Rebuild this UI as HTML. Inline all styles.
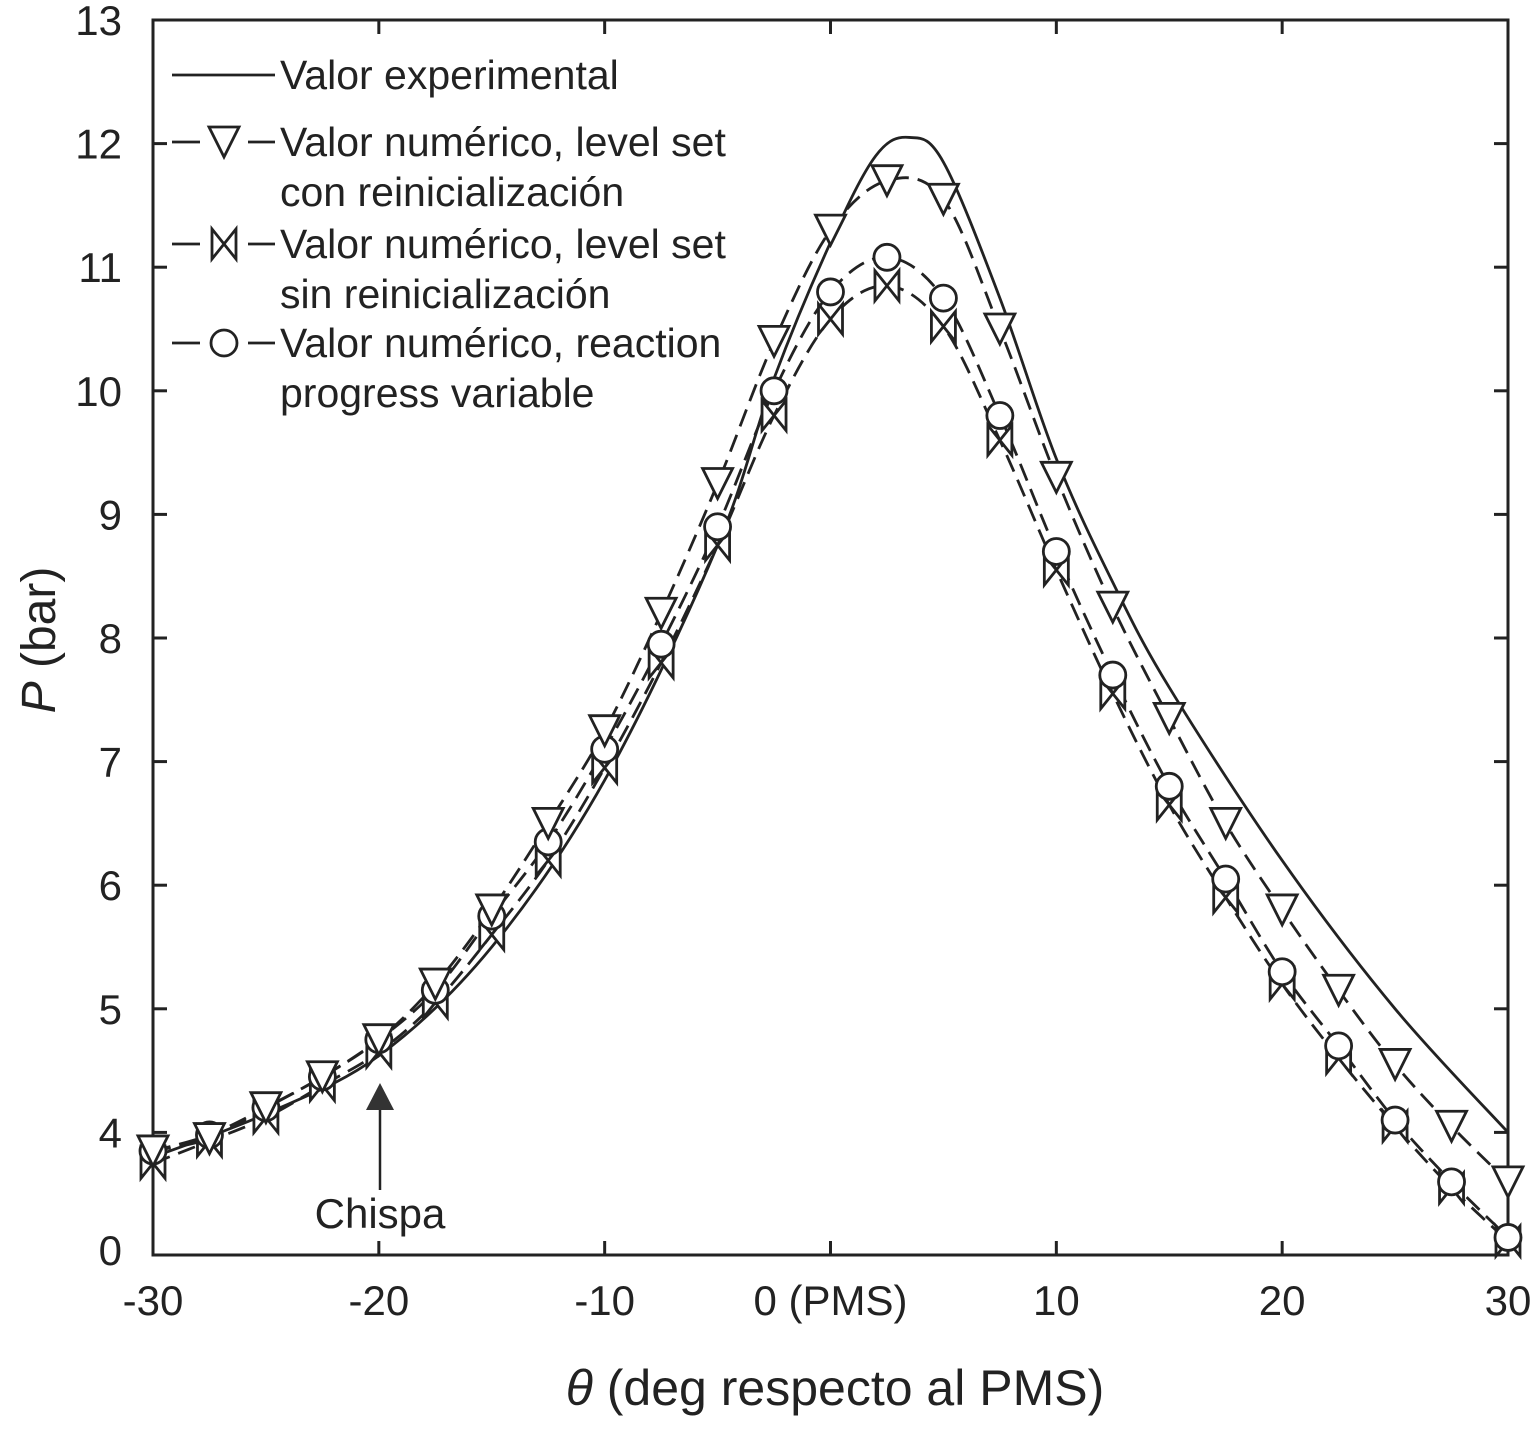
<!DOCTYPE html>
<html><head><meta charset="utf-8"><style>
body{margin:0;background:#fff}
svg text{font-family:"Liberation Sans",Arial,sans-serif;fill:#222}
</style></head><body>
<svg id="chart" width="1539" height="1444" viewBox="0 0 1539 1444" xmlns="http://www.w3.org/2000/svg"></svg>
<script>
const thetas=[-30,-27.5,-25,-22.5,-20,-17.5,-15,-12.5,-10,-7.5,-5,-2.5,0,2.5,5,7.5,10,12.5,15,17.5,20,22.5,25,27.5,30];
const triVals=[3.85,3.95,4.2,4.45,4.75,5.2,5.8,6.5,7.25,8.2,9.25,10.4,11.3,11.7,11.55,10.5,9.3,8.25,7.35,6.5,5.8,5.15,4.55,4.05,3.6];
const circVals=[3.85,3.98,4.2,4.45,4.75,5.15,5.75,6.35,7.1,7.95,8.9,10.0,10.8,11.08,10.75,9.8,8.7,7.7,6.8,6.05,5.3,4.7,4.1,3.6,3.15];
const boxVals=[3.75,3.93,4.12,4.38,4.65,5.05,5.6,6.2,6.95,7.8,8.75,9.8,10.58,10.85,10.52,9.6,8.55,7.55,6.65,5.9,5.2,4.6,4.05,3.55,3.12];
const expTheta=[-30,-25,-20,-15,-10,-5,-2.5,0,2,3.5,5,7.5,10,12.5,15,20,25,30];
const expVals=[3.8,4.15,4.62,5.5,6.85,8.75,10.1,11.2,11.9,12.05,11.85,10.75,9.45,8.45,7.6,6.2,5.0,4.0];
const yTicks=[13,12,11,10,9,8,7,6,5,4];
const xTicks=[-30,-20,-10,0,10,20,30];
const xTickLabels=["-30","-20","-10","0 (PMS)","10","20","30"];

const X=t=>153+(t+30)*(1508-153)/60;
const Y=v=>20+(13-v)*123.6;
const svg=document.getElementById('chart');
const NS='http://www.w3.org/2000/svg';
function mk(tag,attrs,parent){const e=document.createElementNS(NS,tag);for(const k in attrs)e.setAttribute(k,attrs[k]);(parent||svg).appendChild(e);return e;}
function smooth(xs,ys){const p=xs.map((x,i)=>[X(x),Y(ys[i])]);let d=`M${p[0][0]},${p[0][1]}`;
for(let i=0;i<p.length-1;i++){const p0=p[i-1]||p[i],p1=p[i],p2=p[i+1],p3=p[i+2]||p2;
d+=` C${p1[0]+(p2[0]-p0[0])/6},${p1[1]+(p2[1]-p0[1])/6} ${p2[0]-(p3[0]-p1[0])/6},${p2[1]-(p3[1]-p1[1])/6} ${p2[0]},${p2[1]}`;}return d;}

let r=mk('rect',{x:153,y:20,width:1355,height:1235,fill:'none',stroke:'#222','stroke-width':3});

yTicks.forEach(v=>{mk('line',{x1:153,x2:167,y1:Y(v),y2:Y(v),stroke:'#222','stroke-width':3});mk('line',{x1:1494,x2:1508,y1:Y(v),y2:Y(v),stroke:'#222','stroke-width':3});
const t=mk('text',{x:122,y:Y(v)+15,'font-size':42,'text-anchor':'end'});t.textContent=v;
});
const z=mk('text',{x:122,y:1265,'font-size':42,'text-anchor':'end'});z.textContent='0';

xTicks.forEach((v,i)=>{mk('line',{x1:X(v),x2:X(v),y1:1255,y2:1241,stroke:'#222','stroke-width':3});mk('line',{x1:X(v),x2:X(v),y1:20,y2:34,stroke:'#222','stroke-width':3});
const t=mk('text',{x:X(v),y:1315,'font-size':42,'text-anchor':'middle'});t.textContent=xTickLabels[i];
});
let xt=mk('text',{x:835,y:1405,'font-size':50,'text-anchor':'middle'});xt.innerHTML='<tspan font-style="italic">θ</tspan> (deg respecto al PMS)';

let yt=mk('text',{x:0,y:0,'font-size':48,'text-anchor':'middle',transform:'translate(55,640) rotate(-90)'});yt.innerHTML='<tspan font-style="italic">P</tspan> (bar)';


const sl={fill:'none',stroke:'#222','stroke-width':2.8};
let l1=mk('path',Object.assign({d:smooth(expTheta,expVals)},sl));
[[triVals,'reinit-line'],[circVals,'rpv-line'],[boxVals,'noreinit-line']].forEach(([v,n])=>{
const p=mk('path',Object.assign({d:smooth(thetas,v),'stroke-dasharray':'18,9'},sl));});

function tri(cx,cy,g){return mk('path',{d:`M${cx-15},${cy-15} L${cx+15},${cy-15} L${cx},${cy+15} Z`,fill:'#fff',stroke:'#222','stroke-width':2.8},g);}
function circ(cx,cy,g){return mk('circle',{cx,cy,r:13,fill:'#fff',stroke:'#222','stroke-width':2.8},g);}
function box(cx,cy,g){return mk('path',{d:`M${cx-12},${cy-15} L${cx+12},${cy+15} L${cx+12},${cy-15} L${cx-12},${cy+15} Z M${cx-12},${cy-15} L${cx-12},${cy+15} M${cx+12},${cy-15} L${cx+12},${cy+15}`,fill:'#fff',stroke:'#222','stroke-width':2.8},g);}
thetas.forEach((t,i)=>{
let a=box(X(t),Y(boxVals[i]));
let b=circ(X(t),Y(circVals[i]));
let c=tri(X(t),Y(triVals[i]));});

mk('line',{x1:380,x2:380,y1:1110,y2:1190,stroke:'#222','stroke-width':2.5});
let ar=mk('path',{d:'M366,1110 L394,1110 L380,1083 Z',fill:'#333'});
let ch=mk('text',{x:380,y:1228,'font-size':42,'text-anchor':'middle'});ch.textContent='Chispa';

const leg=[['line',75,['Valor experimental']],['tri',142,['Valor numérico, level set','con reinicialización']],['box',244,['Valor numérico, level set','sin reinicialización']],['circ',343,['Valor numérico, reaction','progress variable']]];
leg.forEach(([k,y,lines])=>{const g=mk('g',{});
if(k==='line')mk('line',{x1:172,x2:275,y1:y,y2:y,stroke:'#222','stroke-width':2.8},g);
else{mk('line',{x1:172,x2:200,y1:y,y2:y,stroke:'#222','stroke-width':2.8},g);mk('line',{x1:248,x2:275,y1:y,y2:y,stroke:'#222','stroke-width':2.8},g);
if(k==='tri')tri(224,y,g);if(k==='box')box(224,y,g);if(k==='circ')circ(224,y,g);}
lines.forEach((s,j)=>{const t=mk('text',{x:280,y:y+14+j*50,'font-size':41},g);t.textContent=s;});});
</script>
</body></html>
